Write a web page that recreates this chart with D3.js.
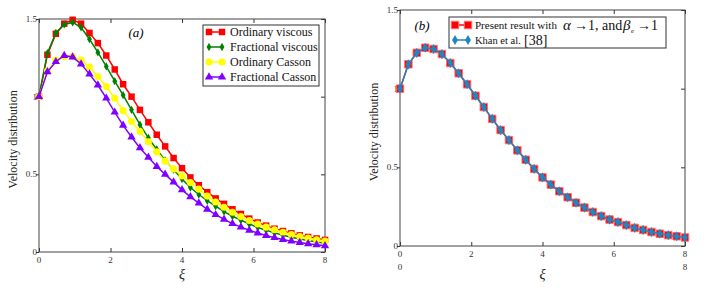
<!DOCTYPE html>
<html>
<head>
<meta charset="utf-8">
<script src="https://cdn.jsdelivr.net/npm/d3@7"></script>
<style>
body { margin: 0; background: #fff; }
svg { display: block; }
svg text { font-family: "Liberation Serif", "Times New Roman", "DejaVu Serif", serif; }
</style>
</head>
<body>
<script>
// xi grid (35 points)
const xi = [0, 0.235, 0.471, 0.706, 0.941, 1.176, 1.412, 1.647, 1.882, 2.118, 2.353, 2.588, 2.824, 3.059, 3.294, 3.529, 3.765, 4.0, 4.235, 4.471, 4.706, 4.941, 5.176, 5.412, 5.647, 5.882, 6.118, 6.353, 6.588, 6.824, 7.059, 7.294, 7.529, 7.765, 8.0];

// panel (a)
const ordinaryViscous = [1.0, 1.27, 1.405, 1.47, 1.495, 1.47, 1.41, 1.345, 1.265, 1.175, 1.08, 1.0, 0.915, 0.835, 0.755, 0.68, 0.605, 0.54, 0.48, 0.43, 0.385, 0.345, 0.31, 0.275, 0.245, 0.215, 0.19, 0.17, 0.15, 0.135, 0.12, 0.107, 0.097, 0.087, 0.078];
const fractionalViscous = [1.0, 1.28, 1.41, 1.465, 1.478, 1.447, 1.37, 1.285, 1.195, 1.10, 1.01, 0.915, 0.82, 0.735, 0.66, 0.59, 0.53, 0.47, 0.415, 0.37, 0.33, 0.295, 0.26, 0.23, 0.205, 0.18, 0.158, 0.14, 0.123, 0.108, 0.095, 0.084, 0.074, 0.065, 0.056];
const ordinaryCasson = [1.0, 1.165, 1.235, 1.258, 1.258, 1.235, 1.19, 1.13, 1.065, 0.99, 0.91, 0.84, 0.775, 0.71, 0.645, 0.585, 0.535, 0.49, 0.447, 0.405, 0.36, 0.322, 0.288, 0.256, 0.228, 0.203, 0.18, 0.16, 0.143, 0.127, 0.113, 0.1, 0.089, 0.079, 0.07];
const fractionalCasson = [1.0, 1.16, 1.225, 1.265, 1.255, 1.21, 1.145, 1.075, 0.99, 0.9, 0.815, 0.74, 0.67, 0.61, 0.55, 0.5, 0.45, 0.4, 0.355, 0.315, 0.275, 0.24, 0.21, 0.183, 0.16, 0.14, 0.122, 0.106, 0.092, 0.08, 0.07, 0.061, 0.053, 0.046, 0.04];

// panel (b)
const presentResult = [1.0, 1.155, 1.228, 1.26, 1.252, 1.22, 1.163, 1.098, 1.028, 0.955, 0.883, 0.808, 0.737, 0.673, 0.608, 0.548, 0.49, 0.436, 0.39, 0.348, 0.31, 0.275, 0.244, 0.216, 0.19, 0.168, 0.152, 0.133, 0.115, 0.102, 0.089, 0.078, 0.069, 0.062, 0.054];
const khanEtAl = [1.0, 1.155, 1.228, 1.26, 1.252, 1.22, 1.163, 1.098, 1.028, 0.955, 0.883, 0.808, 0.737, 0.673, 0.608, 0.548, 0.49, 0.436, 0.39, 0.348, 0.31, 0.275, 0.244, 0.216, 0.19, 0.168, 0.152, 0.133, 0.115, 0.102, 0.089, 0.078, 0.069, 0.062, 0.054];

const xTicks = [0, 2, 4, 6, 8];
const yTicks = [0, 0.5, 1, 1.5];
const yTickLabels = ["0", "0.5", "1", "1.5"];

const serif = "Liberation Serif, Times New Roman, DejaVu Serif, serif";

const svg = d3.select("body").append("svg")
    .attr("width", 704)
    .attr("height", 288)
    .attr("font-family", serif);

// draws the frame, ticks and labels of one panel, returns its scales
function drawFrame(box) {
    const x = d3.scaleLinear().domain([0, 8]).range([box.left, box.right]);
    const y = d3.scaleLinear().domain([0, 1.5]).range([box.bottom, box.top]);

    // inward ticks on bottom, top and right, short outward ones on the left
    svg.append("g").attr("transform", `translate(0,${box.bottom})`)
        .call(d3.axisBottom(x).tickValues(xTicks).tickSize(-4).tickFormat(""))
        .call(g => g.select(".domain").remove());
    svg.append("g").attr("transform", `translate(0,${box.top})`)
        .call(d3.axisTop(x).tickValues(xTicks).tickSize(-4).tickFormat(""))
        .call(g => g.select(".domain").remove());
    svg.append("g").attr("transform", `translate(${box.right},0)`)
        .call(d3.axisRight(y).tickValues(yTicks).tickSize(-4).tickFormat(""))
        .call(g => g.select(".domain").remove());
    svg.append("g").attr("transform", `translate(${box.left},0)`)
        .call(d3.axisLeft(y).tickValues(yTicks).tickSize(3).tickFormat(""))
        .call(g => g.select(".domain").remove());
    svg.selectAll(".tick line").attr("stroke", "#333");

    svg.append("rect")
        .attr("x", box.left).attr("y", box.top)
        .attr("width", box.right - box.left).attr("height", box.bottom - box.top)
        .attr("fill", "none").attr("stroke", "#444").attr("stroke-width", 1);

    svg.append("g").selectAll("text").data(xTicks).join("text")
        .attr("x", d => x(d)).attr("y", box.bottom + 11)
        .attr("text-anchor", "middle").attr("font-size", 9).attr("fill", "#333")
        .text(d => d);
    svg.append("g").selectAll("text").data(yTicks).join("text")
        .attr("x", box.left - 2).attr("y", d => y(d) + 3)
        .attr("text-anchor", "end").attr("font-size", 9).attr("fill", "#333")
        .text((d, i) => yTickLabels[i]);

    svg.append("text")
        .attr("transform", `translate(${box.left - 22},${(box.top + box.bottom) / 2 + 4}) rotate(-90)`)
        .attr("text-anchor", "middle").attr("font-size", 12).attr("fill", "#222")
        .text("Velocity distribution");
    svg.append("text")
        .attr("x", (box.left + box.right) / 2).attr("y", 279)
        .attr("text-anchor", "middle").attr("font-size", 14)
        .attr("font-style", "italic").attr("fill", "#222")
        .text("ξ");
    return { x, y };
}

function drawSeries(sc, values, s) {
    const pts = xi.map((d, i) => [d, values[i]]);
    svg.append("path").datum(pts)
        .attr("fill", "none").attr("stroke", s.color).attr("stroke-width", s.width || 1.5)
        .attr("d", d3.line().x(d => sc.x(d[0])).y(d => sc.y(d[1])));
    svg.append("g").selectAll("path").data(pts).join("path")
        .attr("transform", d => `translate(${sc.x(d[0])},${sc.y(d[1])})`)
        .attr("d", d3.symbol(s.symbol, s.size))
        .attr("fill", s.color)
        .attr("stroke", s.halo || "none").attr("stroke-width", 1);
}

function legendSample(x0, yy, s) {
    svg.append("line").attr("x1", x0).attr("x2", x0 + 17).attr("y1", yy).attr("y2", yy)
        .attr("stroke", s.color).attr("stroke-width", s.width || 1.5);
    [x0 + 2, x0 + 15].forEach(px => {
        svg.append("path").attr("transform", `translate(${px},${yy})`)
            .attr("d", d3.symbol(s.symbol, s.size))
            .attr("fill", s.color).attr("stroke", s.halo || "none");
    });
}

// ---------- panel (a)
const scA = drawFrame({ left: 39, right: 325, top: 19, bottom: 252 });

const stylesA = [
    { name: "Ordinary viscous", values: ordinaryViscous, color: "#ff0000", symbol: d3.symbolSquare, size: 42 },
    { name: "Fractional viscous", values: fractionalViscous, color: "#008000", symbol: d3.symbolDiamond, size: 20 },
    { name: "Ordinary Casson", values: ordinaryCasson, color: "#ffff00", symbol: d3.symbolCircle, size: 40 },
    { name: "Fractional Casson", values: fractionalCasson, color: "#8000ff", symbol: d3.symbolTriangle, size: 30 }
];
stylesA.forEach(s => drawSeries(scA, s.values, s));

svg.append("text").attr("x", 136).attr("y", 37).attr("text-anchor", "middle")
    .attr("font-size", 13).attr("font-style", "italic").text("(a)");

svg.append("rect").attr("x", 203).attr("y", 25).attr("width", 116).attr("height", 61)
    .attr("fill", "#fff").attr("stroke", "#333");
stylesA.forEach((s, i) => {
    const yy = 32 + i * 15;
    legendSample(207, yy, s);
    svg.append("text").attr("x", 230).attr("y", yy + 4).attr("font-size", 12)
        .attr("fill", "#111").text(s.name);
});

// ---------- panel (b)
const scB = drawFrame({ left: 400, right: 685, top: 10, bottom: 246 });

const presentStyle = { color: "#ff0000", symbol: d3.symbolSquare, size: 56, halo: "#ff7070" };
const khanStyle = { color: "#1f86c4", symbol: d3.symbolDiamond, size: 30 };
drawSeries(scB, presentResult, presentStyle);
drawSeries(scB, khanEtAl, khanStyle);

// extra tick labels under the axis, as in the figure
svg.append("text").attr("x", 400).attr("y", 270).attr("text-anchor", "middle")
    .attr("font-size", 9).attr("fill", "#333").text("0");
svg.append("text").attr("x", 685).attr("y", 270).attr("text-anchor", "middle")
    .attr("font-size", 9).attr("fill", "#333").text("8");

svg.append("text").attr("x", 422).attr("y", 30).attr("text-anchor", "middle")
    .attr("font-size", 13).attr("font-style", "italic").text("(b)");

svg.append("rect").attr("x", 449).attr("y", 17).attr("width", 217).attr("height", 31)
    .attr("fill", "#fff").attr("stroke", "#333");
legendSample(453, 25, presentStyle);
legendSample(453, 40, khanStyle);

svg.append("text").attr("x", 475).attr("y", 29).attr("font-size", 11).attr("fill", "#111")
    .text("Present result with");
svg.append("text").attr("x", 563).attr("y", 30).attr("font-size", 15)
    .attr("font-style", "italic").attr("fill", "#111").text("α");
svg.append("text").attr("x", 574).attr("y", 30).attr("font-size", 14).attr("fill", "#111")
    .text("→1, and");
svg.append("text").attr("x", 623).attr("y", 30).attr("font-size", 15)
    .attr("font-style", "italic").attr("fill", "#111").text("β");
svg.append("text").attr("x", 631).attr("y", 33).attr("font-size", 7)
    .attr("font-style", "italic").attr("fill", "#111").text("e");
svg.append("text").attr("x", 637).attr("y", 30).attr("font-size", 14).attr("fill", "#111")
    .text("→1");

svg.append("text").attr("x", 475).attr("y", 44).attr("font-size", 10.5).attr("fill", "#111")
    .text("Khan et al.");
svg.append("text").attr("x", 524).attr("y", 45).attr("font-size", 14).attr("fill", "#111")
    .text("[38]");
</script>
</body>
</html>
